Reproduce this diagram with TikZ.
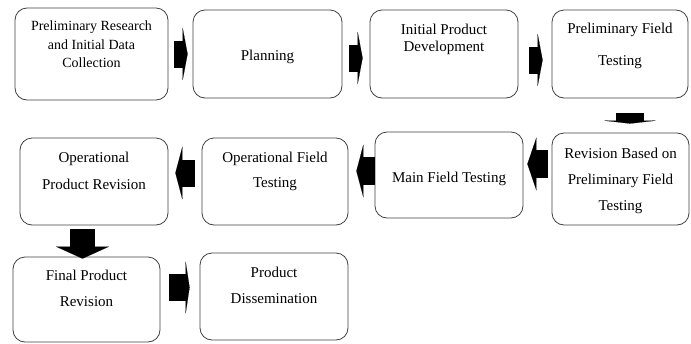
\documentclass[tikz,border=0pt]{standalone}
\usepackage{fontspec}
\setmainfont{Liberation Serif}
\usetikzlibrary{arrows.meta}
\tikzset{
  stage/.style = {draw=black!75, line width=0.8pt, rounded corners=12pt, align=center,
                  inner sep=0pt, font=\fontsize{15}{26}\selectfont,
                  text height=0pt, text depth=0pt},
  blk/.style   = {-{Triangle[length=#1, width=53pt, line width=0.1pt]}, line width=27pt},
  blk/.default = 5pt,
}

\begin{document}
\begin{tikzpicture}[x=1pt, y=-1pt]
  \useasboundingbox (0,0) rectangle (691,343);
  % first row
  \node[stage, minimum width=153pt, minimum height=92pt, text height=27pt,
        font=\fontsize{14}{18.3}\selectfont] (prelim) at (91.5,54)
        {Preliminary Research\\and Initial Data\\Collection};
  \node[stage, minimum width=149pt, minimum height=88pt, text height=12pt] (plan) at (267.5,54) {Planning};
  \node[stage, minimum width=148pt, minimum height=88pt, text depth=6pt] (dev) at (444,54)
        {Initial Product\\[-9pt]Development};
  \node[stage, minimum width=136pt, minimum height=88pt, text height=22pt] (pft) at (620,54)
        {Preliminary Field\\[6pt]Testing};
  % second row
  \node[stage, minimum width=137pt, minimum height=92pt, text height=62pt] (rev) at (620.5,179)
        {Revision Based on\\Preliminary Field\\Testing};
  \node[stage, minimum width=148pt, minimum height=86pt, text height=14pt] (mft) at (449,175)
        {Main Field Testing};
  \node[stage, minimum width=146pt, minimum height=87pt, text height=11pt] (oft) at (275,181.5)
        {Operational Field\\[-1pt]Testing};
  \node[stage, minimum width=148pt, minimum height=87pt, text height=15pt] (opr) at (94,181.5)
        {Operational\\[1pt]Product Revision};
  % third row
  \node[stage, minimum width=147pt, minimum height=85pt, text height=13pt] (fpr) at (86.5,299.5)
        {Final Product\\Revision};
  \node[stage, minimum width=148pt, minimum height=87pt, text height=13pt] (diss) at (274,296.5)
        {Product\\Dissemination};

  \draw[blk, shorten <=6pt, shorten >=5pt] (prelim) -- (plan);
  \draw[blk, shorten <=7pt, shorten >=7pt] ([yshift=-4pt]plan.east) -- ([yshift=-4pt]dev.west);
  \draw[blk, shorten <=11pt, shorten >=9pt] ([yshift=-6pt]dev.east) -- ([yshift=-6pt]pft.west);
  \draw[blk=3pt, line width=28pt, shorten <=15pt, shorten >=9pt]
        ([xshift=10pt]pft.south) -- ([xshift=10pt]pft.south |- rev.north);
  \draw[blk=9pt, line width=28pt, shorten <=4pt, shorten >=4pt]
        ([yshift=15pt]rev.west) -- ([yshift=15pt]rev.west -| mft.east);
  \draw[blk=7pt, line width=28pt, shorten >=8pt]
        ([yshift=4pt]mft.west) -- ([yshift=4pt]mft.west -| oft.east);
  \draw[blk=7pt, shorten <=7pt, shorten >=7pt]
        ([yshift=8.5pt]oft.west) -- ([yshift=8.5pt]oft.west -| opr.east);
  \draw[blk=12pt, line width=25pt, shorten <=4pt, shorten >=-2pt]
        ([xshift=-11.5pt]opr.south) -- ([xshift=-11.5pt]opr.south |- fpr.north);
  \draw[blk=4pt, shorten <=9pt, shorten >=10pt]
        ([yshift=12pt]fpr.east) -- ([yshift=12pt]fpr.east -| diss.west);
\end{tikzpicture}
\end{document}
